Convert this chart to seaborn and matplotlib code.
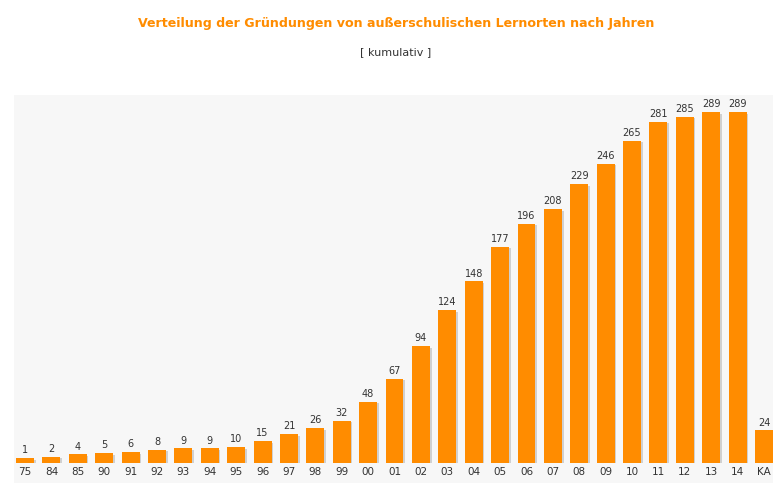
import matplotlib
matplotlib.use("Agg")
import matplotlib.pyplot as plt
import matplotlib.patheffects as pe
from matplotlib.patches import Rectangle
import seaborn as sns
import pandas as pd

# Daten: kumulative Anzahl Gruendungen je Jahr
jahre = ['75', '84', '85', '90', '91', '92', '93', '94', '95', '96', '97', '98',
         '99', '00', '01', '02', '03', '04', '05', '06', '07', '08', '09', '10',
         '11', '12', '13', '14', 'KA']
anzahl = [1, 2, 4, 5, 6, 8, 9, 9, 10, 15, 21, 26, 32, 48, 67, 94, 124, 148,
          177, 196, 208, 229, 246, 265, 281, 285, 289, 289, 24]

df = pd.DataFrame({'jahr': jahre, 'anzahl': anzahl})

orange = '#FF8C00'
bg = '#F7F7F7'
txt = '#333333'

sns.set_style('white')
plt.rcParams['font.family'] = ['DejaVu Sans']

W, H = 773, 483
fig = plt.figure(figsize=(W / 100, H / 100), dpi=100)
fig.patch.set_facecolor('white')

# hellgrauer Hintergrund der Zeichenflaeche (inkl. Achsenbeschriftung)
fig.add_artist(Rectangle((14 / W, 0), 1 - 14 / W, 1 - 95 / H,
                         transform=fig.transFigure, facecolor=bg,
                         edgecolor='none', zorder=-5))

ax = fig.add_axes([14 / W, (H - 463) / H, 1 - 14 / W, (463 - 95) / H])
ax.set_facecolor(bg)
ax.set_zorder(1)

sns.barplot(data=df, x='jahr', y='anzahl', color=orange, width=0.68,
            saturation=1, linewidth=0, ax=ax)

# Mindesthoehe der Balken wie im Original (Balken beginnen am unteren Rand)
y0 = -3.16
for p in ax.patches:
    p.set_y(y0)
    p.set_height(p.get_height() - y0)
    p.set_linewidth(0)
    p.set_path_effects([pe.SimplePatchShadow(offset=(1.2, -1.2),
                                             shadow_rgbFace='#888888',
                                             alpha=0.35), pe.Normal()])

for i, v in enumerate(anzahl):
    ax.annotate(str(v), (i, v), xytext=(0, 2), textcoords='offset points',
                ha='center', va='bottom', fontsize=7, color=txt)

ax.set_xlim(-0.417, len(jahre) - 1 + 0.34)
ax.set_ylim(y0, 303.1)
ax.set_xlabel('')
ax.set_ylabel('')
ax.set_yticks([])
ax.tick_params(axis='x', length=0, pad=3, labelsize=7.5, labelcolor=txt)
for s in ax.spines.values():
    s.set_visible(False)

fig.text(396 / W, 1 - 24 / H, 'Verteilung der Gründungen von außerschulischen Lernorten nach Jahren',
         ha='center', va='center', fontsize=9.1, fontweight='bold', color=orange)
fig.text(396 / W, 1 - 52 / H, '[ kumulativ ]', ha='center', va='center',
         fontsize=8, color=txt)

fig.savefig('out.png', dpi=100)
